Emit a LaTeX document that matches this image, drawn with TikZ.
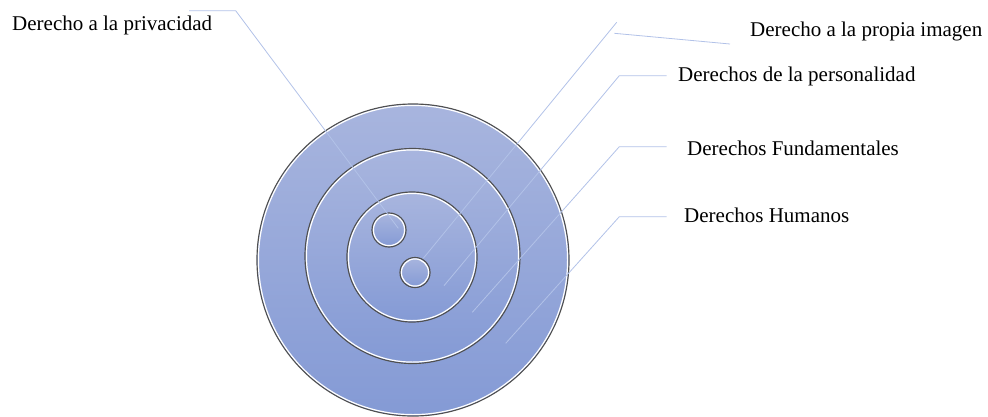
\documentclass[tikz,border=0pt]{standalone}
\usepackage{fontspec}
\setmainfont{Liberation Serif}
\definecolor{topc}{RGB}{168,181,222}
\definecolor{botc}{RGB}{132,154,213}
\definecolor{leader}{RGB}{178,194,232}
\definecolor{rim}{RGB}{80,80,80}
\begin{document}
\begin{tikzpicture}[x=1pt,y=-1pt,
  ring/.style={circle, draw=rim, line width=1.2pt, inner sep=0pt, top color=topc, bottom color=botc},
  rimw/.style={draw=white, line width=1.2pt},
  lead/.style={draw=leader, line width=0.8pt},
  lbl/.style={anchor=base west, inner sep=0pt, font=\fontsize{21}{25}\selectfont}]
\useasboundingbox (0,0) rectangle (988,416);
% circles
\node[ring, minimum size=312pt] (hum) at (413,260) {};
\draw[rimw] (hum.center) circle[radius=154.6pt];
\node[ring, minimum size=215pt] (fund) at (412.5,256) {};
\draw[rimw] (fund.center) circle[radius=106.1pt];
\node[ring, minimum size=130pt] (pers) at (412,257) {};
\draw[rimw] (pers.center) circle[radius=63.6pt];
\node[ring, minimum size=34pt] (priv) at (389,230) {};
\draw[rimw] (priv.center) circle[radius=15.6pt];
\node[ring, minimum size=30pt] (img) at (415,272.5) {};
\draw[rimw] (img.center) circle[radius=13.6pt];
% labels
\node[lbl] (tpriv) at (12,30.5) {Derecho a la privacidad};
\node[lbl] (timg) at (750,36) {Derecho a la propia imagen};
\node[lbl] (tpers) at (678,81) {Derechos de la personalidad};
\node[lbl] (tfund) at (687,155) {Derechos Fundamentales};
\node[lbl] (thum) at (684,222.5) {Derechos Humanos};
% leader end points
\coordinate (epriv) at (398.3,228.3);
\coordinate (kpriv) at (235.7,10.7);
\coordinate (hpriv) at (189,10.7);
\coordinate (eimg) at (423.3,258.3);
\coordinate (kimg) at (616.7,22.3);
\coordinate (aimg) at (614.3,33.3);
\coordinate (bimg) at (730,44);
\coordinate (epers) at (444,285.7);
\coordinate (kpers) at (619.3,75.7);
\coordinate (hpers) at (666.7,75.7);
\coordinate (efund) at (472.3,312.3);
\coordinate (kfund) at (619.3,146.7);
\coordinate (hfund) at (666.7,146.7);
\coordinate (ehum) at (505.7,343.3);
\coordinate (khum) at (619.3,216.7);
\coordinate (hhum) at (666.7,216.7);
% leaders
\draw[lead] (epriv) -- (kpriv) -- (hpriv);
\draw[lead] (eimg) -- (kimg);
\draw[lead] (aimg) -- (bimg);
\draw[lead] (epers) -- (kpers) -- (hpers);
\draw[lead] (efund) -- (kfund) -- (hfund);
\draw[lead] (ehum) -- (khum) -- (hhum);
\end{tikzpicture}
\end{document}
